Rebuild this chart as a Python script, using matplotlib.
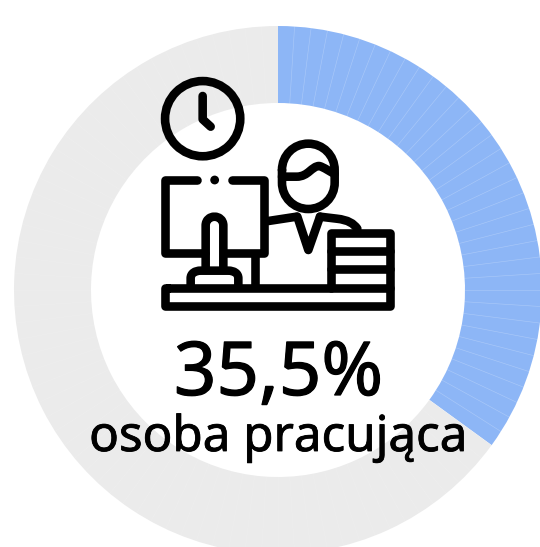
import numpy as np
import matplotlib
matplotlib.use("Agg")
import matplotlib.pyplot as plt
import matplotlib.patheffects as pe
from matplotlib.patches import Circle
from matplotlib.path import Path
from matplotlib.patches import PathPatch

# Data
share_label = "35,5%"
category_label = "osoba pracująca"
ring_values = [35.0, 65.0]   # share of the ring as drawn (whole 1% slices)
slice_step = 1.0
colors = ["#8DB6F6", "#EBEBEB"]

W, H = 540, 547
CX, CY, R_OUT, R_IN = 278, 290, 264, 187

fig = plt.figure(figsize=(W / 100, H / 100), dpi=100)
ax = fig.add_axes([0, 0, 1, 1])

ax.pie(ring_values, colors=colors, startangle=90, counterclock=False,
       radius=R_OUT, center=(CX, H - CY),
       wedgeprops=dict(width=R_OUT - R_IN, linewidth=0), frame=False)

# Faint seams between the 1% slices
for pct in np.arange(slice_step, sum(ring_values), slice_step):
    a = np.pi / 2 - 2 * np.pi * pct / sum(ring_values)
    alpha = 0.25 if pct <= ring_values[0] else 0.15
    ax.plot([CX + R_IN * np.cos(a), CX + R_OUT * np.cos(a)],
            [H - CY + R_IN * np.sin(a), H - CY + R_OUT * np.sin(a)],
            color="white", lw=0.45, alpha=alpha, zorder=3)

ax.set_xlim(0, W)
ax.set_ylim(0, H)
ax.set_aspect("equal")
ax.axis("off")

# Icon: coordinates in a local drawing space
def P(zx, zy):
    return 140 + zx / 3, H - (60 + zy / 3)

LW = 8.6 * 0.72
KW = dict(color="black", lw=LW, solid_capstyle="round", solid_joinstyle="round", zorder=5)

def poly(*pts):
    xy = np.array([P(*p) for p in pts])
    ax.plot(xy[:, 0], xy[:, 1], **KW)

def curve(*segments):
    verts, codes = [], []
    for i, s in enumerate(segments):
        if i == 0:
            verts.append(P(*s)); codes.append(Path.MOVETO)
        elif len(s) == 2:
            verts.append(P(*s)); codes.append(Path.LINETO)
        else:
            verts += [P(s[0], s[1]), P(s[2], s[3]), P(s[4], s[5])]
            codes += [Path.CURVE4] * 3
    ax.add_patch(PathPatch(Path(verts, codes), fc="none", ec="black", lw=LW,
                           capstyle="round", joinstyle="round", zorder=5))

# clock (transparent face: the ring shows through)
cx, cy = P(188, 176)
ax.add_patch(Circle((cx, cy), 37.6, fc="none", ec="black", lw=LW, zorder=5))
poly((188, 108), (188, 178), (212, 200))
# monitor
poly((170, 360), (75, 360), (75, 580), (195, 580))
poly((275, 360), (372, 360), (372, 580), (252, 580))
dx, dy = P(224, 360)
ax.add_patch(Circle((dx, dy), 4.4, fc="black", ec="none", zorder=5))
# stand
curve((197, 630), (197, 497), (197, 461, 250, 461, 250, 497), (250, 630))
curve((152, 682), (152, 655), (152, 640, 165, 632, 182, 632), (265, 632),
      (282, 632, 295, 640, 295, 655), (295, 682))
poly((345, 585), (345, 682))
# desk
curve((85, 683), (749, 683), (749, 737), (75, 737), (75, 683), (85, 683))
# books
poly((573, 683), (573, 519), (749, 519), (749, 683))
poly((573, 573), (749, 573))
poly((573, 627), (749, 627))
# head
curve((426, 330), (426, 286, 461, 251, 505, 251), (549, 251, 584, 286, 584, 330),
      (584, 368), (584, 412, 549, 447, 505, 447), (461, 447, 426, 412, 426, 368), (426, 330))
# hair
curve((426, 350), (470, 350), (505, 350, 515, 318, 538, 318), (552, 322, 570, 335, 584, 342))
# shoulders and collar
poly((385, 483), (470, 470))
curve((540, 470), (590, 476), (625, 480, 640, 490, 652, 506))
poly((472, 470), (505, 570), (540, 470))

# Text
FONT = "Noto Sans"
ax.text(278.5, H - 395, share_label, ha="center", va="baseline", fontsize=53.5,
        family=FONT, color="black", zorder=6,
        path_effects=[pe.withStroke(linewidth=0.9, foreground="black")])
ax.text(278.5, H - 451, category_label, ha="center", va="baseline", fontsize=35.5,
        family=FONT, color="black", zorder=6,
        path_effects=[pe.withStroke(linewidth=0.6, foreground="black")])

fig.savefig("out.png", dpi=100, facecolor="white")
